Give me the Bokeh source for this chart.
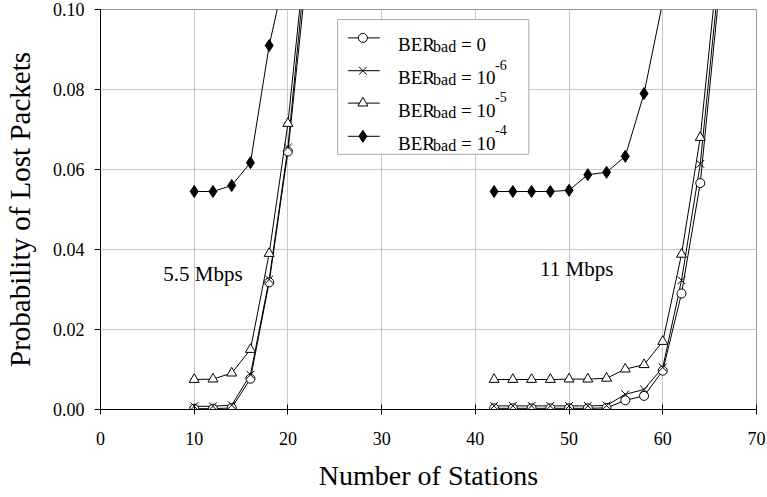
from bokeh.plotting import figure
from bokeh.models import PrintfTickFormatter, FixedTicker
from bokeh.core.properties import value
from bokeh.embed import file_html
from bokeh.resources import INLINE

# ---------------- data ----------------
x_55 = [10, 12, 14, 16, 18, 20, 22]
ber0_55 = [0.0002, 0.0002, 0.0004, 0.0077, 0.0318, 0.0645, 0.109]
ber6_55 = [0.0008, 0.0008, 0.0011, 0.0087, 0.0325, 0.0655, 0.114]
ber5_55 = [0.0075, 0.0076, 0.0091, 0.0150, 0.0390, 0.0715, 0.117]
x4_55 = [10, 12, 14, 16, 18, 20]
ber4_55 = [0.0545, 0.0545, 0.0560, 0.0617, 0.0910, 0.112]

x_11 = [42, 44, 46, 48, 50, 52, 54, 56, 58, 60, 62, 64, 66]
ber0_11 = [0.0003, 0.0003, 0.0003, 0.0003, 0.0003, 0.0003, 0.0004, 0.0023, 0.0034, 0.0097, 0.0290, 0.0566, 0.104]
ber6_11 = [0.0009, 0.0009, 0.0009, 0.0009, 0.0009, 0.0009, 0.0010, 0.0038, 0.0050, 0.0105, 0.0323, 0.0614, 0.108]
ber5_11 = [0.0075, 0.0075, 0.0075, 0.0075, 0.0076, 0.0076, 0.0078, 0.0101, 0.0112, 0.0170, 0.0388, 0.0680, 0.114]
x4_11 = [42, 44, 46, 48, 50, 52, 54, 56, 58, 60]
ber4_11 = [0.0545, 0.0545, 0.0545, 0.0545, 0.0548, 0.0587, 0.0593, 0.0633, 0.0790, 0.102]

x_ticks = [0, 10, 20, 30, 40, 50, 60, 70]
y_ticks = [0.0, 0.02, 0.04, 0.06, 0.08, 0.10]

legend_values = ["0", "10", "10", "10"]
legend_exps = ["", "-6", "-5", "-4"]
legend_markers = ["circle", "x", "triangle", "diamond"]
legend_fill = ["white", "white", "white", "black"]
legend_sizes = [9, 11, 10, 12]

rate_labels = ["5.5 Mbps", "11 Mbps"]
rate_x = [6.7, 46.9]
rate_y = [0.034, 0.0352]

# legend layout (data coordinates)
leg_box = dict(left=25.3, right=45.7, top=0.0975, bottom=0.0638)
leg_rows = [0.0929, 0.0847, 0.0766, 0.0683]
leg_line_x = (26.4, 29.8)
leg_mark_x = 28.0
leg_text_x = 31.75

FONT = "Liberation Serif"

p = figure(width=766, height=497, x_range=(0, 70), y_range=(0, 0.1),
           output_backend="svg", toolbar_location=None,
           min_border_left=100, min_border_right=10, min_border_top=9, min_border_bottom=88)
p.background_fill_color = "white"
p.border_fill_color = "white"
p.outline_line_color = "#999999"
p.outline_line_width = 1

p.xgrid.grid_line_color = "#c8c8c8"
p.ygrid.grid_line_color = "#c8c8c8"
p.xgrid.ticker = FixedTicker(ticks=x_ticks)
p.ygrid.ticker = FixedTicker(ticks=y_ticks)

p.xaxis.ticker = FixedTicker(ticks=x_ticks)
p.yaxis.ticker = FixedTicker(ticks=y_ticks)
p.yaxis.formatter = PrintfTickFormatter(format="%.2f")
for ax in (p.xaxis[0], p.yaxis[0]):
    ax.axis_line_color = "black"
    ax.major_tick_line_color = "black"
    ax.minor_tick_line_color = None
    ax.major_label_text_font = FONT
    ax.major_label_text_font_size = "18px"
    ax.major_label_text_color = "black"
    ax.axis_label_text_font = FONT
    ax.axis_label_text_font_style = "normal"
    ax.axis_label_text_color = "black"

p.xaxis.axis_label = "Number of Stations"
p.xaxis.axis_label_text_font_size = "28px"
p.xaxis.major_tick_in = 5
p.xaxis.major_tick_out = 5
p.xaxis.major_label_standoff = 17
p.xaxis.axis_label_standoff = 12

p.yaxis.axis_label = "Probability of Lost Packets"
p.yaxis.axis_label_text_font_size = "29px"
p.yaxis.major_tick_in = 0
p.yaxis.major_tick_out = 6
p.yaxis.major_label_standoff = 10
p.yaxis.axis_label_standoff = 14

# ---------------- series ----------------
series = [
    (x_55, ber0_55, "circle", "white", 9),
    (x_55, ber6_55, "x", "white", 11),
    (x_55, ber5_55, "triangle", "white", 10),
    (x4_55, ber4_55, "diamond", "black", 12),
    (x_11, ber0_11, "circle", "white", 9),
    (x_11, ber6_11, "x", "white", 11),
    (x_11, ber5_11, "triangle", "white", 10),
    (x4_11, ber4_11, "diamond", "black", 12),
]
for xs, ys, mk, fill, sz in series:
    p.line(xs, ys, line_color="black", line_width=1)
for xs, ys, mk, fill, sz in series:
    p.scatter(xs, ys, marker=mk, size=sz, line_color="black", fill_color=fill, line_width=1)

# rate annotations
p.text(x=rate_x, y=rate_y, text=rate_labels, text_font=value(FONT), text_font_size="21px",
       text_baseline="middle", text_align="left", text_color="black")

# ---------------- legend (manual, for sub/superscripts) ----------------
p.quad(left=[leg_box["left"]], right=[leg_box["right"]], top=[leg_box["top"]],
       bottom=[leg_box["bottom"]], fill_color="white", line_color="#aaaaaa", line_width=1)
for i, yv in enumerate(leg_rows):
    p.line([leg_line_x[0], leg_line_x[1]], [yv, yv], line_color="black", line_width=1)
    p.scatter([leg_mark_x], [yv], marker=legend_markers[i], size=legend_sizes[i],
              line_color="black", fill_color=legend_fill[i], line_width=1)
    p.text(x=[leg_text_x], y=[yv], text=["BER"], text_font=value(FONT), text_font_size="19px",
           text_baseline="alphabetic", y_offset=7, text_color="black")
    p.text(x=[leg_text_x], y=[yv], text=["bad"], text_font=value(FONT), text_font_size="16px",
           text_baseline="alphabetic", x_offset=35, y_offset=9, text_color="black")
    p.text(x=[leg_text_x], y=[yv], text=["= " + legend_values[i]], text_font=value(FONT),
           text_font_size="19px", text_baseline="alphabetic", x_offset=63, y_offset=7,
           text_color="black")
    if legend_exps[i]:
        p.text(x=[leg_text_x], y=[yv], text=[legend_exps[i]], text_font=value(FONT),
               text_font_size="14px", text_baseline="alphabetic", x_offset=97, y_offset=-6,
               text_color="black")

open("out.html", "w").write(file_html(p, INLINE))
